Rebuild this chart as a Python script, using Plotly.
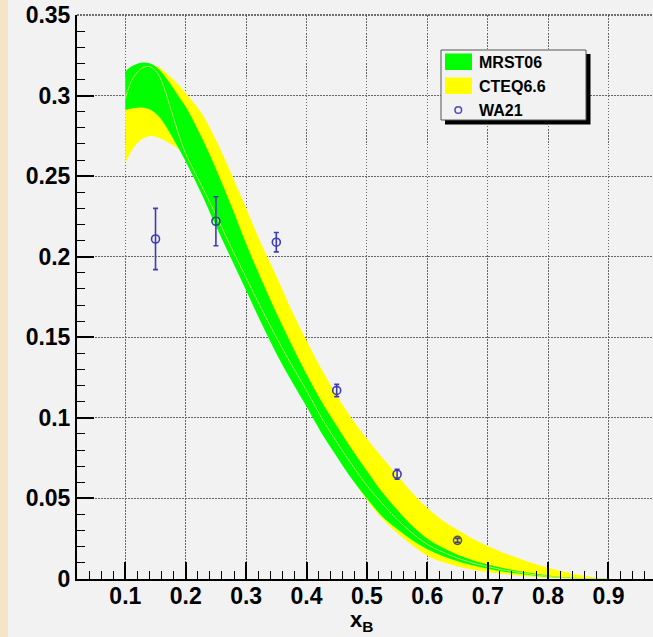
import plotly.graph_objects as go

# ---------------- data ----------------
x_band = [0.10, 0.11, 0.12, 0.13, 0.14, 0.15, 0.16, 0.175, 0.19, 0.20, 0.225, 0.25, 0.275,
          0.30, 0.325, 0.35, 0.375, 0.40, 0.425, 0.45, 0.475, 0.50, 0.525, 0.55, 0.575,
          0.60, 0.625, 0.65, 0.675, 0.70, 0.725, 0.75, 0.775, 0.80, 0.825, 0.85, 0.875, 0.90]

mrst_upper = [0.315, 0.318, 0.3198, 0.3205, 0.3200, 0.318, 0.3145, 0.307, 0.2985, 0.293, 0.275,
              0.2545, 0.232, 0.208, 0.186, 0.165, 0.1455, 0.127, 0.110, 0.095, 0.0805, 0.067,
              0.054, 0.043, 0.033, 0.025, 0.0195, 0.015, 0.0117, 0.009, 0.0068, 0.005, 0.0035,
              0.0022, 0.0012, 0.0006, 0.0002, 0.0]
mrst_lower = [0.291, 0.292, 0.2925, 0.2925, 0.2915, 0.289, 0.285, 0.276, 0.266, 0.259, 0.240,
              0.219, 0.199, 0.179, 0.159, 0.140, 0.123, 0.107, 0.0905, 0.076, 0.062, 0.050,
              0.039, 0.031, 0.024, 0.0185, 0.0143, 0.011, 0.0085, 0.0064, 0.0047, 0.0034, 0.0022,
              0.0013, 0.0007, 0.0003, 0.0001, 0.0]
mrst_central = [0.298, 0.309, 0.3145, 0.3175, 0.318, 0.3155, 0.309, 0.292, 0.274, 0.264, 0.245,
                0.226, 0.206, 0.187, 0.168, 0.150, 0.133, 0.117, 0.100, 0.085, 0.071, 0.058,
                0.047, 0.037, 0.0285, 0.0215, 0.0168, 0.013, 0.010, 0.0077, 0.0057, 0.0042, 0.0028,
                0.0017, 0.0009, 0.0004, 0.0002, 0.0]
cteq_upper = [0.312, 0.316, 0.318, 0.319, 0.3192, 0.3185, 0.3165, 0.3115, 0.306, 0.3015, 0.2898,
              0.2725, 0.252, 0.230, 0.208, 0.188, 0.167, 0.148, 0.130, 0.114, 0.0995, 0.087,
              0.0755, 0.0645, 0.0535, 0.0440, 0.0365, 0.0305, 0.025, 0.0205, 0.0165, 0.013, 0.0098,
              0.007, 0.0046, 0.0026, 0.0011, 0.0]
cteq_lower = [0.258, 0.2655, 0.2705, 0.2735, 0.2748, 0.2745, 0.2730, 0.2700, 0.2665, 0.2625, 0.244,
              0.223, 0.203, 0.183, 0.163, 0.144, 0.126, 0.110, 0.093, 0.0775, 0.0625, 0.049,
              0.0375, 0.0285, 0.021, 0.0145, 0.0105, 0.0078, 0.0058, 0.0043, 0.0032, 0.0022, 0.0014,
              0.0008, 0.0004, 0.0002, 0.0001, 0.0]

wa21_x = [0.15, 0.25, 0.35, 0.45, 0.55, 0.65]
wa21_y = [0.211, 0.222, 0.209, 0.117, 0.065, 0.024]
wa21_err = [0.019, 0.0152, 0.006, 0.0038, 0.003, 0.0012]

x_tickvals = [0.1, 0.2, 0.3, 0.4, 0.5, 0.6, 0.7, 0.8, 0.9]
x_ticktext = ["0.1", "0.2", "0.3", "0.4", "0.5", "0.6", "0.7", "0.8", "0.9"]
y_tickvals = [0, 0.05, 0.1, 0.15, 0.2, 0.25, 0.3, 0.35]
y_ticktext = ["0", "0.05", "0.1", "0.15", "0.2", "0.25", "0.3", "0.35"]

legend_labels = ["MRST06", "CTEQ6.6", "WA21"]

# ---------------- layout geometry ----------------
W, H = 653, 637
ML, MR, MT, MB = 77, 0, 15, 58
PW, PH = W - ML - MR, H - MT - MB


def pxx(px):
    return (px - ML) / PW


def pxy(py):
    return (H - MB - py) / PH


FONT = "Liberation Sans, Arial, Helvetica, sans-serif"
GREEN = "#00ff00"
YELLOW = "#ffff00"
BLUE = "#3c3cb4"
BG = "#f2f2f2"

fig = go.Figure()

fig.add_trace(go.Scatter(x=x_band, y=cteq_lower, mode="lines", line=dict(width=0, shape="spline"),
                         showlegend=False, hoverinfo="skip"))
fig.add_trace(go.Scatter(x=x_band, y=cteq_upper, mode="lines", line=dict(width=0, shape="spline"),
                         fill="tonexty", fillcolor=YELLOW, name="CTEQ6.6", showlegend=False))
fig.add_trace(go.Scatter(x=x_band, y=mrst_lower, mode="lines", line=dict(width=0, shape="spline"),
                         showlegend=False, hoverinfo="skip"))
fig.add_trace(go.Scatter(x=x_band, y=mrst_upper, mode="lines", line=dict(width=0, shape="spline"),
                         fill="tonexty", fillcolor=GREEN, name="MRST06", showlegend=False))
fig.add_trace(go.Scatter(x=x_band, y=mrst_central, mode="lines",
                         line=dict(width=1, color="rgb(190,238,100)", shape="spline"),
                         showlegend=False, hoverinfo="skip"))

marker_line_colors = [BLUE, "#1f4f70", BLUE, BLUE, BLUE, "#55553a"]
fig.add_trace(go.Scatter(
    x=wa21_x, y=wa21_y, mode="markers", name="WA21", showlegend=False,
    marker=dict(symbol="circle-open", size=8, color=marker_line_colors,
                line=dict(width=1.6, color=marker_line_colors)),
    error_y=dict(type="data", array=wa21_err, visible=True, color=BLUE, thickness=1.6, width=2.5),
))

shapes = [
    # beige left strip
    dict(type="rect", xref="paper", yref="paper", x0=pxx(0), x1=pxx(8), y0=pxy(H), y1=pxy(0),
         fillcolor="#f3e5c5", line=dict(width=0), layer="above"),
    # top dotted border
    dict(type="line", xref="paper", yref="paper", x0=0, x1=1, y0=1, y1=1,
         line=dict(color="#444444", width=1.5, dash="2px,1px"), layer="above"),
    # legend shadow
    dict(type="rect", xref="paper", yref="paper", x0=pxx(445), x1=pxx(590.5), y0=pxy(124.5), y1=pxy(54),
         fillcolor="black", line=dict(width=0), layer="above"),
    # legend box
    dict(type="rect", xref="paper", yref="paper", x0=pxx(441), x1=pxx(586), y0=pxy(120), y1=pxy(50),
         fillcolor=BG, line=dict(color="#555555", width=1), layer="above"),
    # swatches
    dict(type="rect", xref="paper", yref="paper", x0=pxx(445), x1=pxx(472), y0=pxy(70), y1=pxy(53.5),
         fillcolor=GREEN, line=dict(width=0), layer="above"),
    dict(type="rect", xref="paper", yref="paper", x0=pxx(445), x1=pxx(472), y0=pxy(94), y1=pxy(77.5),
         fillcolor=YELLOW, line=dict(width=0), layer="above"),
    dict(type="circle", xref="paper", yref="paper", x0=pxx(455), x1=pxx(461.6), y0=pxy(113.3), y1=pxy(106.7),
         fillcolor="rgba(0,0,0,0)", line=dict(color="#4a4ac0", width=1.5), layer="above"),
]

annotations = []
for label, ypx in zip(legend_labels, [62, 86, 110]):
    annotations.append(dict(xref="paper", yref="paper", x=pxx(476.5), y=pxy(ypx), text=label,
                            showarrow=False, xanchor="left", yanchor="middle",
                            font=dict(family=FONT, size=16, color="black", weight="bold")))
annotations.append(dict(xref="paper", yref="paper", x=pxx(361), y=pxy(637), text="x<sub>B</sub>",
                        showarrow=False, xanchor="center", yanchor="bottom",
                        font=dict(family=FONT, size=22, color="black", weight="bold")))

grid_style = dict(showgrid=True, gridcolor="#666666", gridwidth=1, griddash="1.5px,1.5px")
tickfont = dict(family=FONT, size=23, color="black", weight="bold")

fig.update_layout(
    width=W, height=H,
    margin=dict(l=ML, r=MR, t=MT, b=MB, pad=0),
    paper_bgcolor=BG, plot_bgcolor=BG,
    showlegend=False,
    shapes=shapes, annotations=annotations,
    xaxis=dict(range=[0.02, 0.9737], tickvals=x_tickvals, ticktext=x_ticktext,
               ticks="inside", ticklen=17, tickwidth=1.5, tickcolor="black",
               showline=True, linecolor="black", linewidth=2, zeroline=False,
               tickfont=tickfont, ticklabelstandoff=-5,
               minor=dict(tick0=0, dtick=0.02, ticks="inside", ticklen=8, tickwidth=1.3,
                          tickcolor="black", showgrid=False),
               **grid_style),
    yaxis=dict(range=[0, 0.35], tickvals=y_tickvals, ticktext=y_ticktext,
               ticks="inside", ticklen=17, tickwidth=1.5, tickcolor="black",
               showline=True, linecolor="black", linewidth=2, zeroline=False,
               tickfont=tickfont,
               minor=dict(tick0=0, dtick=0.01, ticks="inside", ticklen=8, tickwidth=1.3,
                          tickcolor="black", showgrid=False),
               **grid_style),
)

fig.write_html("out.html", config={"displayModeBar": False},
               post_script="document.body.style.margin='0';document.body.style.overflow='hidden';")
